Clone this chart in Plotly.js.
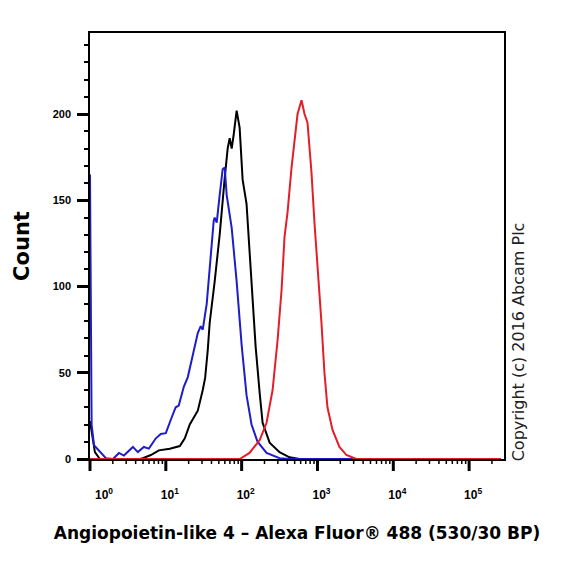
<!DOCTYPE html>
<html>
<head>
<meta charset="utf-8">
<script src="https://cdn.plot.ly/plotly-3.0.1.min.js"></script>
<style>html,body{margin:0;padding:0;background:#fff;}#chart{width:570px;height:568px;}</style>
</head>
<body>
<div id="chart"></div>
<script>
// Isotype / unstained control (black)
var blackX = [1, 1.06, 1.16, 1.35, 4.54, 4.98, 6.35, 8.09, 11.3, 15.3, 17.8, 20.7, 26.4, 30.7, 33.0, 35.7, 37.9, 44.1, 51.3, 59.8, 65.4, 69.5, 73.9, 78.5, 85.9, 94.1, 103, 116, 135, 153, 173, 189, 234, 316, 428, 580, 262144];
var blackY = [22, 15, 4, 0, 0, 0.5, 2.3, 5, 6, 7.5, 12, 20, 28, 40, 47, 63, 79, 103, 130, 163, 180, 186, 180, 188, 202, 192, 162, 148, 105, 65, 38, 21, 9.5, 4, 1, 0, 0];
// Blue control
var blueX = [1, 1.05, 1.13, 1.31, 1.62, 2.01, 2.41, 2.8, 3.68, 4.28, 5.13, 5.98, 7.39, 8.59, 10.0, 11.6, 13.5, 14.8, 17.3, 19.5, 22.7, 26.4, 28.9, 30.7, 34.6, 39.1, 42.8, 44.1, 46.9, 51.3, 56.2, 59.8, 63.5, 73.9, 85.9, 100, 116, 135, 162, 213, 316, 428, 262144];
var blueY = [165, 20, 8, 5, 0.5, 0, 3.5, 2, 7, 4, 7, 6, 12, 14.5, 15, 22.6, 30, 31, 42, 47.5, 61, 73, 77, 75, 90, 119, 138, 140, 137, 153, 168, 169, 153, 134, 103, 66, 37, 20, 10, 3.5, 0.5, 0, 0];
// Angiopoietin-like 4 stained (red)
var redX = [1, 94.1, 127, 173, 213, 256, 298, 336, 368, 403, 455, 498, 546, 616, 675, 739, 834, 913, 1000, 1129, 1236, 1354, 1576, 1948, 2407, 3260, 262144];
var redY = [0, 0, 3.5, 11, 21, 40, 69, 98, 129, 143, 169, 183, 200, 208, 200, 195, 166, 137, 114, 79, 50, 30, 17, 7, 2.3, 0, 0];

var xTickVals = [1, 10, 100, 1000, 10000, 100000];
var xTickText = ['\u00a0\u00a0\u00a0\u00a0\u00a0\u00a010<sup>0</sup>', '10<sup>1</sup>', '10<sup>2</sup>', '10<sup>3</sup>', '10<sup>4</sup>', '10<sup>5</sup>'];
var yTickVals = [0, 50, 100, 150, 200];
var yTickText = ['0', '50', '100', '150', '200'];

var X_RANGE = [0, 5.46];
var Y_RANGE = [0, 247];
var W = 570, H = 568;
var M = {l: 90, r: 66, t: 33, b: 109};
var PLOT_H = H - M.t - M.b;

// minor tick positions on the log axis: digits 2..9 of each decade
var xMinor = [];
for (var dec = 0; dec < 6; dec++) {
  for (var dg = 2; dg <= 9; dg++) {
    var v = dg * Math.pow(10, dec);
    if (Math.log10(v) <= X_RANGE[1]) xMinor.push(v);
  }
}
var yMinor = [];
for (var t = 10; t <= 240; t += 10) { if (t % 50 !== 0) yMinor.push(t); }

// each histogram sits on its own overlaid (identical-range) axis pair,
// which lets every y axis carry one tick layer (labels / major / minor)
var traces = [
  {x: blackX, y: blackY, xaxis: 'x', yaxis: 'y', type: 'scatter', mode: 'lines', line: {color: '#000000', width: 2}},
  {x: blueX, y: blueY, xaxis: 'x2', yaxis: 'y2', type: 'scatter', mode: 'lines', line: {color: '#1e1ec8', width: 2}},
  {x: redX, y: redY, xaxis: 'x3', yaxis: 'y3', type: 'scatter', mode: 'lines', line: {color: '#e41e28', width: 2}}
];

function tickAxis(type, range, vals, len, width, overlay, anchor, side, show) {
  return {
    type: type, range: range, autorange: false,
    overlaying: overlay, anchor: anchor, side: side,
    tickmode: 'array', tickvals: vals, ticks: show ? 'outside' : '', ticklen: len, tickwidth: width, tickcolor: '#000000',
    showticklabels: false, showline: false, showgrid: false, zeroline: false
  };
}

// x-axis tick marks hanging below the axis line: fraction of the log range of axis x
function xTickShapes(vals, len, width) {
  return vals.map(function (val) {
    var f = (Math.log10(val) - X_RANGE[0]) / (X_RANGE[1] - X_RANGE[0]);
    return {
      type: 'line', xref: 'paper', yref: 'paper',
      x0: f, x1: f, y0: 0, y1: -len / PLOT_H,
      line: {color: '#000000', width: width}, layer: 'above'
    };
  });
}

var layout = {
  width: W, height: H,
  margin: M,
  paper_bgcolor: '#ffffff', plot_bgcolor: '#ffffff',
  showlegend: false,
  hovermode: false,
  xaxis: {
    type: 'log', range: X_RANGE, autorange: false,
    tickmode: 'array', tickvals: xTickVals, ticktext: xTickText,
    ticks: 'outside', ticklen: 24, tickwidth: 1, tickcolor: 'rgba(0,0,0,0)',
    ticklabelshift: 4,
    showline: true, linecolor: '#000000', linewidth: 1.5, mirror: true,
    showgrid: false, zeroline: false,
    tickfont: {family: 'Liberation Sans, Arial, sans-serif', size: 12, color: '#000000', weight: 'bold'},
    title: {text: 'Angiopoietin-like 4 – Alexa Fluor® 488 (530/30 BP)', standoff: 26,
            font: {family: 'DejaVu Sans, sans-serif', size: 17, color: '#000000', weight: 'bold'}}
  },
  xaxis2: tickAxis('log', X_RANGE, xTickVals, 12, 3, 'x', 'y2', 'bottom', false),
  xaxis3: tickAxis('log', X_RANGE, xMinor, 5, 1.5, 'x', 'y3', 'bottom', false),
  yaxis: {
    range: Y_RANGE, autorange: false,
    tickmode: 'array', tickvals: yTickVals, ticktext: yTickText,
    ticks: 'outside', ticklen: 15, tickwidth: 1, tickcolor: 'rgba(0,0,0,0)',
    showline: true, linecolor: '#000000', linewidth: 1.5, mirror: true,
    showgrid: false, zeroline: false,
    tickfont: {family: 'Liberation Sans, Arial, sans-serif', size: 11, color: '#000000', weight: 'bold'},
    title: {text: 'Count', standoff: 17,
            font: {family: 'DejaVu Sans, sans-serif', size: 21, color: '#000000', weight: 'bold'}}
  },
  yaxis2: tickAxis('linear', Y_RANGE, yTickVals, 12, 3, 'y', 'x2', 'left', true),
  yaxis3: tickAxis('linear', Y_RANGE, yMinor, 5, 1.5, 'y', 'x3', 'left', true),
  shapes: xTickShapes(xTickVals, 12, 3).concat(xTickShapes(xMinor, 5, 1.5)),
  annotations: [{
    text: 'Copyright (c) 2016 Abcam Plc',
    xref: 'paper', yref: 'paper', x: 1.0338, y: -0.009,
    xanchor: 'center', yanchor: 'bottom', textangle: -90, showarrow: false,
    font: {family: 'DejaVu Sans, sans-serif', size: 16, color: '#222222'}
  }]
};

Plotly.newPlot('chart', traces, layout, {displayModeBar: false});
</script>
</body>
</html>
